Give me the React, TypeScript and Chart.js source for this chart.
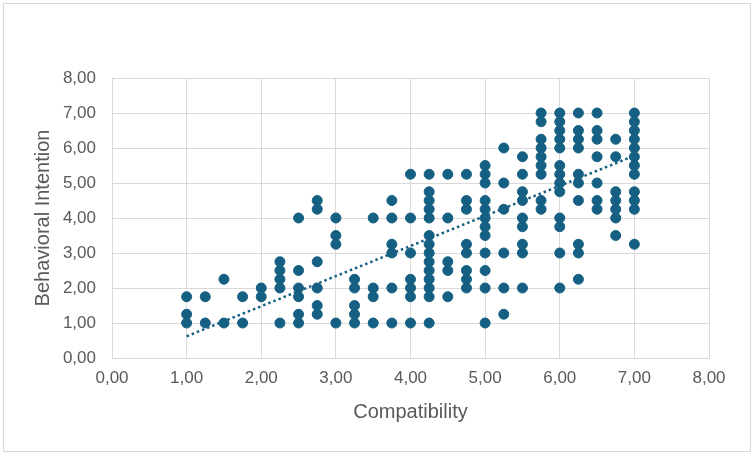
import React, { useEffect, useRef } from "react";
import { Chart, registerables } from "chart.js";

Chart.register(...registerables);

// Compatibility levels (x) and the Behavioral Intention values observed at each level (y)
const compatibilityLevels = [
  1.0, 1.25, 1.5, 1.75, 2.0, 2.25, 2.5, 2.75, 3.0, 3.25, 3.5, 3.75, 4.0, 4.25,
  4.5, 4.75, 5.0, 5.25, 5.5, 5.75, 6.0, 6.25, 6.5, 6.75, 7.0,
];

const intentionAtLevel: number[][] = [
  [1.75, 1.25, 1.0],
  [1.75, 1.0],
  [2.25, 1.0],
  [1.75, 1.0],
  [2.0, 1.75],
  [2.75, 2.5, 2.25, 2.0, 1.0],
  [4.0, 2.5, 2.0, 1.75, 1.25, 1.0],
  [4.5, 4.25, 2.75, 2.0, 1.5, 1.25],
  [4.0, 3.5, 3.25, 1.0],
  [2.25, 2.0, 1.5, 1.25, 1.0],
  [4.0, 2.0, 1.75, 1.0],
  [4.5, 4.0, 3.25, 3.0, 2.0, 1.0],
  [5.25, 4.0, 3.0, 2.25, 2.0, 1.75, 1.0],
  [5.25, 4.75, 4.5, 4.25, 4.0, 3.5, 3.25, 3.0, 2.75, 2.5, 2.25, 2.0, 1.75, 1.0],
  [5.25, 4.0, 2.75, 2.5, 1.75],
  [5.25, 4.5, 4.25, 3.25, 3.0, 2.5, 2.25, 2.0],
  [5.5, 5.25, 5.0, 4.5, 4.25, 4.0, 3.75, 3.5, 3.0, 2.5, 2.0, 1.0],
  [6.0, 5.0, 4.25, 3.0, 2.0, 1.25],
  [5.75, 5.25, 4.75, 4.5, 4.0, 3.75, 3.25, 3.0, 2.0],
  [7.0, 6.75, 6.25, 6.0, 5.75, 5.5, 5.25, 4.5, 4.25],
  [7.0, 6.75, 6.5, 6.25, 6.0, 5.5, 5.25, 5.0, 4.75, 4.0, 3.75, 3.0, 2.0],
  [7.0, 6.5, 6.25, 6.0, 5.25, 5.0, 4.5, 3.25, 3.0, 2.25],
  [7.0, 6.5, 6.25, 5.75, 5.0, 4.5, 4.25],
  [6.25, 5.75, 4.75, 4.5, 4.25, 4.0, 3.5],
  [7.0, 6.75, 6.5, 6.25, 6.0, 5.75, 5.5, 5.25, 4.75, 4.5, 4.25, 3.25],
];

// Linear trendline end points (Excel dotted trendline)
const trendX = [1.0, 7.0];
const trendY = [0.62, 5.78];

const axisMin = 0;
const axisMax = 8;
const axisStep = 1;

const xTitle = "Compatibility";
const yTitle = "Behavioral Intention";

const MARKER = "#156082";
const TEXT = "#595959";
const GRID = "#d9d9d9";
const FONT = "'Liberation Sans', Arial, sans-serif";

const fmt = (v: number | string) => Number(v).toFixed(2).replace(".", ",");

export default function App() {
  const canvasRef = useRef<HTMLCanvasElement | null>(null);

  useEffect(() => {
    if (!canvasRef.current) return;

    const points: { x: number; y: number }[] = [];
    compatibilityLevels.forEach((x, i) => {
      intentionAtLevel[i].forEach((y) => points.push({ x, y }));
    });
    const trend = trendX.map((x, i) => ({ x, y: trendY[i] }));

    const chart = new Chart(canvasRef.current, {
      type: "scatter",
      data: {
        datasets: [
          {
            type: "line",
            data: trend,
            borderColor: MARKER,
            borderWidth: 2.5,
            borderDash: [2.5, 3],
            pointRadius: 0,
            fill: false,
            order: 0,
          } as any,
          {
            data: points,
            backgroundColor: MARKER,
            borderColor: MARKER,
            borderWidth: 1,
            pointRadius: 5,
            order: 1,
          },
        ],
      },
      options: {
        responsive: false,
        animation: false,
        layout: { padding: { top: 78, right: 42, left: 0, bottom: 0 } },
        plugins: {
          legend: { display: false },
          tooltip: { enabled: false },
        },
        scales: {
          x: {
            type: "linear",
            min: axisMin,
            max: axisMax,
            afterFit: (s: any) => {
              s.height = 95;
            },
            ticks: {
              stepSize: axisStep,
              autoSkip: false,
              maxRotation: 0,
              color: TEXT,
              font: { family: FONT, size: 17 },
              padding: 10,
              callback: (v: any) => fmt(v),
            },
            grid: { color: GRID, drawTicks: false, lineWidth: 1 },
            border: { color: GRID, width: 1 },
            title: {
              display: true,
              text: xTitle,
              color: TEXT,
              font: { family: FONT, size: 20 },
              padding: { top: 0, bottom: 29 },
            },
          },
          y: {
            type: "linear",
            min: axisMin,
            max: axisMax,
            afterFit: (s: any) => {
              s.width = 112;
            },
            ticks: {
              stepSize: axisStep,
              autoSkip: false,
              color: TEXT,
              font: { family: FONT, size: 17 },
              padding: 16,
              callback: (v: any) => fmt(v),
            },
            grid: { color: GRID, drawTicks: false, lineWidth: 1 },
            border: { color: GRID, width: 1 },
            title: {
              display: true,
              text: yTitle,
              color: TEXT,
              font: { family: FONT, size: 20 },
              padding: { top: 31, bottom: 0 },
            },
          },
        },
      },
    });

    return () => chart.destroy();
  }, []);

  return (
    <div
      style={{
        position: "absolute",
        left: 0,
        top: 0,
        width: 751,
        height: 453,
        background: "#ffffff",
      }}
    >
      <div
        style={{
          position: "absolute",
          left: 3,
          top: 3,
          width: 746,
          height: 447,
          border: "1px solid #d9d9d9",
        }}
      />
      <canvas
        ref={canvasRef}
        width={751}
        height={453}
        style={{ position: "absolute", left: 0, top: 0, width: 751, height: 453 }}
      />
    </div>
  );
}
